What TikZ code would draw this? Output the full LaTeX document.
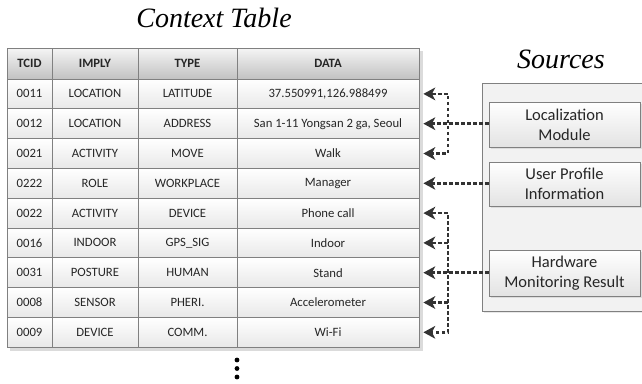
\documentclass[tikz,border=0pt]{standalone}
\usepackage{fontspec}
\setmainfont{Carlito}
\newfontfamily\titlefont{Liberation Serif}
\usetikzlibrary{arrows.meta,shadows}

\definecolor{gridline}{HTML}{808080}
\definecolor{conncol}{HTML}{333333}
\definecolor{celltxt}{HTML}{262626}

% one row of the context table: row index, then the four field values
\newcommand\ctxrow[5]{%
  \pgfmathsetmacro\yc{79+29.8*(#1-0.5)}%
  \node[cell, minimum width=45pt]  (t-#1-1) at (29.5,\yc) {#2};
  \node[cell, minimum width=86pt]  (t-#1-2) at (95,\yc)   {#3};
  \node[cell, minimum width=99pt]  (t-#1-3) at (187.5,\yc) {#4};
  \node[cell, minimum width=182pt] (t-#1-4) at (328,\yc)  {#5};
  \coordinate (tip#1) at ([xshift=4pt]t-#1-4.east);
}

\begin{document}
\begin{tikzpicture}[x=1pt,y=-1pt,
  cell/.style={draw=gridline, line width=0.8pt, inner sep=0pt,
    minimum height=29.8pt, top color=white, bottom color=black!9,
    text=celltxt, font=\fontsize{12.7}{15}\selectfont},
  hcell/.style={cell, minimum height=31pt, top color=black!4,
    bottom color=black!24, font=\fontsize{12.7}{15}\selectfont\bfseries},
  srcbox/.style={draw=gridline, line width=0.8pt, inner sep=0pt,
    minimum width=151pt, top color=white, bottom color=black!11,
    text=celltxt, align=center,
    font=\fontsize{16.5}{20}\selectfont,
    drop shadow={shadow xshift=2pt, shadow yshift=-2pt, fill=black!22}},
  title/.style={font=\titlefont\itshape\fontsize{28}{30}\selectfont,
    anchor=base, inner sep=0pt},
  conn/.style={draw=conncol, line width=2.7pt, dash pattern=on 3.6pt off 2.4pt},
  head/.tip={Stealth[length=12pt, width=13pt, inset=3.5pt, line width=0pt]},
  tip/.style={-head},
  tips/.style={head-head},
  dotmark/.style={circle, fill=black, inner sep=0pt, minimum size=4.8pt}]

\useasboundingbox (0,0) rectangle (642,383);

% titles
\node[title] (ctxtitle) at (214,27) {Context Table};
\node[title] (srctitle) at (561,68) {Sources};

% soft shadow behind the table
\fill[black!14] (10,51) rectangle (423,351);

% header row
\node[hcell, minimum width=45pt]  (h-1) at (29.5,63.5)  {TCID};
\node[hcell, minimum width=86pt]  (h-2) at (95,63.5)    {IMPLY};
\node[hcell, minimum width=99pt]  (h-3) at (187.5,63.5) {TYPE};
\node[hcell, minimum width=182pt] (h-4) at (328,63.5)   {DATA};

% table body
\ctxrow{1}{0011}{LOCATION}{LATITUDE}{37.550991,126.988499}
\ctxrow{2}{0012}{LOCATION}{ADDRESS}{San 1-11 Yongsan 2 ga, Seoul}
\ctxrow{3}{0021}{ACTIVITY}{MOVE}{Walk}
\ctxrow{4}{0222}{ROLE}{WORKPLACE}{Manager}
\ctxrow{5}{0022}{ACTIVITY}{DEVICE}{Phone call}
\ctxrow{6}{0016}{INDOOR}{GPS\_SIG}{Indoor}
\ctxrow{7}{0031}{POSTURE}{HUMAN}{Stand}
\ctxrow{8}{0008}{SENSOR}{PHERI.}{Accelerometer}
\ctxrow{9}{0009}{DEVICE}{COMM.}{Wi-Fi}

% continuation marks
\node[dotmark] (more1) at (237,360) {};
\node[dotmark] (more2) at (237,368.5) {};
\node[dotmark] (more3) at (237,377) {};

% sources panel
\node[draw=gridline, line width=0.8pt, fill=black!5, inner sep=0pt,
  minimum width=170pt, minimum height=228pt,
  drop shadow={shadow xshift=2pt, shadow yshift=-2pt, fill=black!18}]
  (panel) at (567,197) {};
\node[srcbox, minimum height=45pt] (loc) at (564.5,124.5) {Localization\\Module};
\node[srcbox, minimum height=44pt] (usr) at (564.5,184)   {User Profile\\Information};
\node[srcbox, minimum height=46pt] (hw)  at (564.5,273)   {Hardware\\Monitoring Result};

% x position of the vertical distribution lines
\coordinate (bus) at (448,0);

% localization feeds rows 1-3
\draw[conn, tips] (tip1) -- (tip1 -| bus) -- (tip3 -| bus) -- (tip3);
\draw[conn, tip] (tip2 -| loc.west) -- (tip2);

% user profile feeds row 4
\draw[conn, tip] (tip4 -| usr.west) -- (tip4);

% hardware monitoring feeds rows 5-9
\draw[conn, tips] (tip5) -- (tip5 -| bus) -- (tip9 -| bus) -- (tip9);
\draw[conn, tip] (tip6 -| bus) -- (tip6);
\draw[conn, tip] (tip7 -| hw.west) -- (tip7);
\draw[conn, tip] (tip8 -| bus) -- (tip8);

\end{tikzpicture}
\end{document}
